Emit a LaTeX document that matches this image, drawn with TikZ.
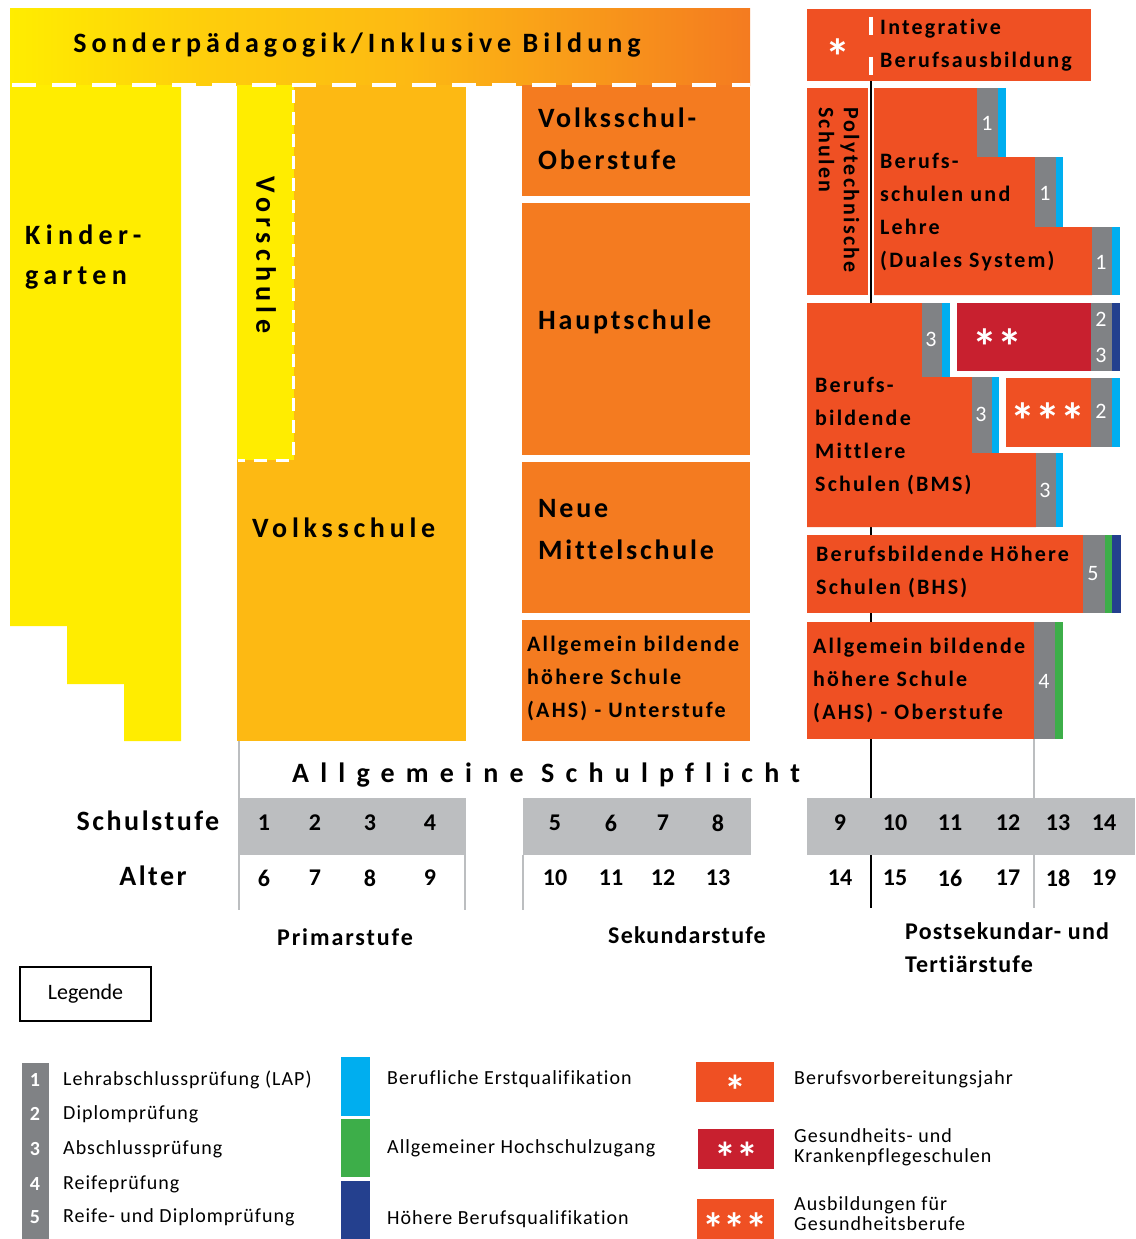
\documentclass[tikz,border=0pt]{standalone}
\usepackage{fontspec}
\setmainfont{Carlito}[Ligatures=NoCommon]

\definecolor{kgyellow}{HTML}{FFED00}
\definecolor{vsgold}{HTML}{FDB913}
\definecolor{sekorange}{HTML}{F47B20}
\definecolor{postred}{HTML}{EF5023}
\definecolor{pflegered}{HTML}{C8202F}
\definecolor{bargrey}{HTML}{808285}
\definecolor{stufengrey}{HTML}{BCBEC0}
\definecolor{erstcyan}{HTML}{00AEEF}
\definecolor{hochgreen}{HTML}{3DAE49}
\definecolor{hoehernavy}{HTML}{24408E}

\pgfdeclarehorizontalshading{bandshade}{100bp}{color(0bp)=(kgyellow); color(25bp)=(kgyellow); color(38bp)=(kgyellow!40!vsgold); color(52bp)=(vsgold); color(75bp)=(sekorange); color(100bp)=(sekorange)}

\tikzset{
  boxlbl/.style={font=\bfseries\fontsize{28}{42}\selectfont\addfontfeature{LetterSpace=10}, align=left, inner sep=0pt, anchor=west},
  widelbl/.style={font=\bfseries\fontsize{28}{40}\selectfont\addfontfeature{LetterSpace=19}, align=left, inner sep=0pt},
  postlbl/.style={font=\bfseries\fontsize{22}{33}\selectfont\addfontfeature{LetterSpace=10}, align=left, inner sep=0pt, anchor=west},
  barnum/.style={font=\fontsize{22}{36}\selectfont, text=white, inner sep=0pt, align=center},
  stars/.style={font=\bfseries\fontsize{50}{50}\selectfont, text=white, inner sep=0pt},
  cellnum/.style={font=\bfseries\fontsize{24}{24}\selectfont, inner sep=0pt},
  leglbl/.style={font=\fontsize{20}{20}\selectfont\addfontfeature{LetterSpace=5}, align=left, inner sep=0pt, anchor=west},
  legnum/.style={font=\bfseries\fontsize{20}{20}\selectfont, text=white, inner sep=0pt},
  tableline/.style={stufengrey, line width=2pt}
}

\begin{document}
\begin{tikzpicture}[x=1pt,y=-1pt]
  \useasboundingbox (0,0) rectangle (1135,1239);

  \shade[shading=bandshade] (10,9) rectangle (750,85);
  \fill[kgyellow] (10,85) -- (181,85) -- (181,741) -- (124,741) -- (124,684) -- (67,684) -- (67,626) -- (10,626) -- cycle;
  \fill[vsgold] (237,85) rectangle (466,741);
  \fill[kgyellow] (237,85) rectangle (294,460);
  \draw[white, line width=3pt, dash pattern=on 13pt off 9pt] (293,90) -- (293,460) -- (238,460);
  \fill[sekorange] (522,85) rectangle (750,196);
  \fill[sekorange] (522,203) rectangle (750,455);
  \fill[sekorange] (522,462) rectangle (750,613);
  \fill[sekorange] (522,620) rectangle (750,741);
  \draw[white, line width=4pt, dash pattern=on 24pt off 16pt] (12,85) -- (750,85);

  \draw[black, line width=2pt] (871,81) -- (871,908);
  \draw[tableline] (1034,739) -- (1034,908);
  \draw[tableline] (239,741) -- (239,910);
  \draw[tableline] (465,855) -- (465,910);
  \draw[tableline] (523,855) -- (523,910);

  \fill[postred] (807,9) rectangle (1091,81);
  \draw[white, line width=4pt, dash pattern=on 18pt off 22pt] (871,17) -- (871,75);
  \fill[postred] (807,88) rectangle (868,295);
  \fill[postred] (874,88) -- (977,88) -- (977,157) -- (1035,157) -- (1035,227) -- (1092,227) -- (1092,295) -- (874,295) -- cycle;
  \fill[bargrey] (977,88) rectangle (998,157);
  \fill[erstcyan] (998,88) rectangle (1006,157);
  \fill[bargrey] (1035,157) rectangle (1056,227);
  \fill[erstcyan] (1056,157) rectangle (1063,227);
  \fill[bargrey] (1092,227) rectangle (1112,295);
  \fill[erstcyan] (1112,227) rectangle (1120,295);

  \fill[postred] (807,303) -- (922,303) -- (922,377) -- (972,377) -- (972,453) -- (1036,453) -- (1036,527) -- (807,527) -- cycle;
  \fill[bargrey] (922,303) rectangle (942,377);
  \fill[erstcyan] (942,303) rectangle (950,377);
  \fill[bargrey] (972,377) rectangle (992,453);
  \fill[erstcyan] (992,377) rectangle (999,453);
  \fill[bargrey] (1036,453) rectangle (1056,527);
  \fill[erstcyan] (1056,453) rectangle (1063,527);
  \fill[pflegered] (957,303) rectangle (1091,371);
  \fill[bargrey] (1091,303) rectangle (1112,371);
  \fill[hoehernavy] (1112,303) rectangle (1120,371);
  \fill[postred] (1006,378) rectangle (1091,447);
  \fill[bargrey] (1091,378) rectangle (1112,447);
  \fill[erstcyan] (1112,378) rectangle (1120,447);

  \fill[postred] (807,535) rectangle (1083,613);
  \fill[bargrey] (1083,535) rectangle (1105,613);
  \fill[hochgreen] (1105,535) rectangle (1112,613);
  \fill[hoehernavy] (1112,535) rectangle (1121,613);
  \fill[postred] (807,622) rectangle (1034,739);
  \fill[bargrey] (1034,622) rectangle (1055,739);
  \fill[hochgreen] (1055,622) rectangle (1063,739);

  \fill[stufengrey] (240,798) rectangle (466,855);
  \fill[stufengrey] (523,798) rectangle (751,855);
  \fill[stufengrey] (807,798) rectangle (1135,855);

  \node[font=\bfseries\fontsize{28}{28}\selectfont\addfontfeature{LetterSpace=18}, inner sep=0pt] (band) at (357,45) {Sonderpädagogik/Inklusive Bildung};
  \node[widelbl, anchor=west] (kiga) at (25,257) {Kinder-\\garten};
  \node[widelbl, rotate=-90] (vorschule) at (266,255) {Vorschule};
  \node[widelbl, anchor=west, font=\bfseries\fontsize{28}{28}\selectfont\addfontfeature{LetterSpace=17}] (volksschule) at (252,528) {Volksschule};
  \node[boxlbl] (vsober) at (538,139) {Volksschul-\\Oberstufe};
  \node[boxlbl] (hs) at (538,322) {Hauptschule};
  \node[boxlbl] (nms) at (538,530) {Neue\\Mittelschule};
  \node[postlbl] (ahsu) at (527,678) {Allgemein bildende\\höhere Schule\\(AHS) - Unterstufe};

  \node[stars] (ibastar) at (838,57) {*};
  \node[postlbl] (iba) at (880,45) {Integrative\\Berufsausbildung};
  \node[postlbl, font=\bfseries\fontsize{22}{25}\selectfont\addfontfeature{LetterSpace=10}, rotate=-90, anchor=center] (poly) at (839,190) {Polytechnische\\Schulen};
  \node[postlbl] (bs) at (880,212) {Berufs-\\schulen und\\Lehre\\(Duales System)};
  \node[postlbl] (bms) at (815,436) {Berufs-\\bildende\\Mittlere\\Schulen (BMS)};
  \node[stars] (pflege) at (997,347) {**};
  \node[stars] (gesund) at (1048,421) {***};
  \node[postlbl] (bhs) at (816,572) {Berufsbildende Höhere\\Schulen (BHS)};
  \node[postlbl] (ahso) at (813,680) {Allgemein bildende\\höhere Schule\\(AHS) - Oberstufe};

  \foreach \n/\x/\y in {1/987/123, 1/1045/193, 1/1101/262, 3/931/339, 3/981/414, 3/1045/490, 2/1101/411, 5/1093/574, 4/1044/681}
    \node[barnum] (bar\x) at (\x,\y) {\n};
  \node[barnum] (bar2a) at (1101,337) {2\\3};

  \node[font=\bfseries\fontsize{28}{28}\selectfont\addfontfeature{LetterSpace=40}, inner sep=0pt, anchor=west] (pflicht) at (292,775) {Allgemeine Schulpflicht};
  \node[font=\bfseries\fontsize{28}{28}\selectfont\addfontfeature{LetterSpace=9}, inner sep=0pt] (stufe) at (148,821) {Schulstufe};
  \node[font=\bfseries\fontsize{28}{28}\selectfont\addfontfeature{LetterSpace=9}, inner sep=0pt] (alter) at (153,876) {Alter};
  \foreach \s/\a/\x in {1/6/264, 2/7/315, 3/8/370, 4/9/430, 5/10/555, 6/11/611, 7/12/663, 8/13/718, 9/14/840, 10/15/895, 11/16/950, 12/17/1008, 13/18/1058, 14/19/1104}{
    \node[cellnum] (stufe\s) at (\x,823) {\s};
    \node[cellnum] (alter\s) at (\x,878) {\a};
  }
  \node[cellnum, font=\bfseries\fontsize{24}{24}\selectfont\addfontfeature{LetterSpace=8}] (primar) at (345,937) {Primarstufe};
  \node[cellnum, font=\bfseries\fontsize{24}{24}\selectfont\addfontfeature{LetterSpace=5}] (sekundar) at (687,935) {Sekundarstufe};
  \node[postlbl, font=\bfseries\fontsize{24}{33}\selectfont\addfontfeature{LetterSpace=5}] (post) at (905,948) {Postsekundar- und\\Tertiärstufe};

  \node[draw, line width=1.5pt, minimum width=131pt, minimum height=54pt, inner sep=0pt, font=\fontsize{22}{22}\selectfont] (legende) at (85.5,994) {Legende};

  \fill[bargrey] (22,1063) rectangle (49,1239);
  \foreach \n/\y/\t in {1/1080/Lehrabschlussprüfung (LAP), 2/1114/Diplomprüfung, 3/1149/Abschlussprüfung, 4/1184/Reifeprüfung, 5/1217/Reife- und Diplomprüfung}{
    \node[legnum] (legnum\n) at (35,\y) {\n};
    \node[leglbl] (legtext\n) at (63,\y) {\t};
  }
  \fill[erstcyan] (341,1057) rectangle (370,1116);
  \fill[hochgreen] (341,1119) rectangle (370,1177);
  \fill[hoehernavy] (341,1181) rectangle (370,1239);
  \node[leglbl] (legerst) at (387,1079) {Berufliche Erstqualifikation};
  \node[leglbl] (leghoch) at (387,1148) {Allgemeiner Hochschulzugang};
  \node[leglbl] (leghoeher) at (387,1219) {Höhere Berufsqualifikation};

  \fill[postred] (696,1062) rectangle (774,1102);
  \fill[pflegered] (698,1129) rectangle (774,1169);
  \fill[postred] (697,1199) rectangle (774,1239);
  \node[stars, font=\bfseries\fontsize{44}{44}\selectfont] (legstar1) at (735,1091) {*};
  \node[stars, font=\bfseries\fontsize{44}{44}\selectfont] (legstar2) at (736,1158) {**};
  \node[stars, font=\bfseries\fontsize{44}{44}\selectfont, rotate=180] (legstar3) at (735,1211) {***};
  \node[leglbl] (legbvj) at (794,1079) {Berufsvorbereitungsjahr};
  \node[leglbl] (legpflege) at (794,1147) {Gesundheits- und\\Krankenpflegeschulen};
  \node[leglbl] (leggesund) at (794,1214) {Ausbildungen für\\Gesundheitsberufe};
\end{tikzpicture}
\end{document}
